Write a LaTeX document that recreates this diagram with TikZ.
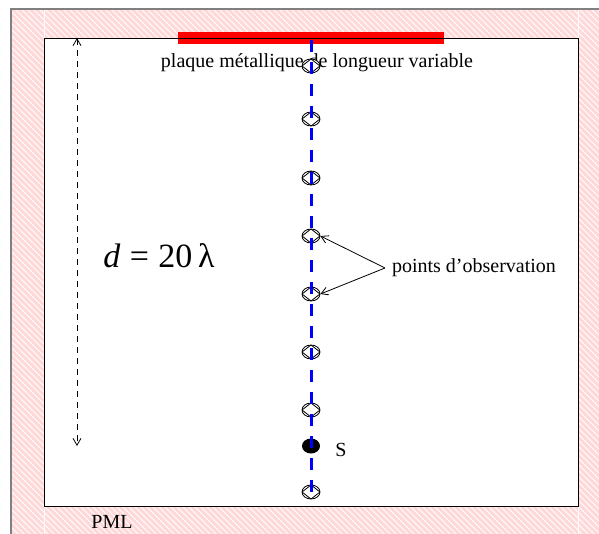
\documentclass[tikz,border=0pt]{standalone}
\usepackage{fontspec}
\setmainfont{Liberation Serif}
\usetikzlibrary{patterns,shapes.geometric,arrows.meta}
\begin{document}
\begin{tikzpicture}[x=0.5pt, y=-0.5pt,
  pml/.style={fill=red!15, draw=white, thin, postaction={pattern=north west lines, pattern color=white}},
  obs/.style={ellipse, draw, thin, minimum width=9pt, minimum height=7pt, inner sep=0pt, fill=white,
    path picture={\draw[thin] (path picture bounding box.north) -- (path picture bounding box.east) -- (path picture bounding box.south) -- (path picture bounding box.west) -- cycle;}},
  >={Straight Barb[angle=60:4pt]}]
  \useasboundingbox (0,0) rectangle (599,534);
  \clip (0,0) rectangle (599,534);
  % PML layers
  \path[pml] (11,9) rectangle (44,545);
  \path[pml] (44,9) rectangle (578,38);
  \path[pml] (578,9) rectangle (610,545);
  \path[pml] (44,506) rectangle (578,545);
  \draw[gray, thick] (11,545) -- (11,9) -- (610,9);
  \draw[thin] (44,38) rectangle (578,506);
  \node (pml) at (112,522) {PML};
  % metal plate
  \fill[red] (178,32) rectangle (444,44);
  \draw[thin] (178,38) -- (444,38);
  \node (plaque) at (317,63) {plaque métallique de longueur variable};
  % distance
  \coordinate (dtop) at (77,38);
  \coordinate (dbot) at (77,446);
  \draw[<->, thin, dash pattern=on 3pt off 2.5pt] (dtop) -- (dbot);
  \node (d) at (159,256) {\fontsize{17}{20}\selectfont\textit{d}\;=\;20\,λ};
  % observation points
  \node[obs] (p1) at (311,66) {};
  \node[obs] (p2) at (311,119) {};
  \node[obs] (p3) at (311,178) {};
  \node[obs] (p4) at (311,236) {};
  \node[obs] (p5) at (311,294) {};
  \node[obs] (p6) at (311,352) {};
  \node[obs] (p7) at (311,410) {};
  \node[ellipse, fill=black, minimum width=9pt, minimum height=7.5pt, inner sep=0pt] (src) at (311,446) {};
  \node[obs] (p8) at (311,492) {};
  \node (s) at (341,450) {S};
  \coordinate (ltop) at (311,40);
  \coordinate (lbot) at (311,499);
  \draw[blue, line width=1.5pt, dash pattern=on 6pt off 5pt] (ltop) -- (lbot);
  % label
  \node[anchor=west] (obslabel) at (385,268) {points d'observation};
  \draw[->, thin] (obslabel.west) -- (p4.east);
  \draw[->, thin] (obslabel.west) -- (p5.east);
\end{tikzpicture}
\end{document}
